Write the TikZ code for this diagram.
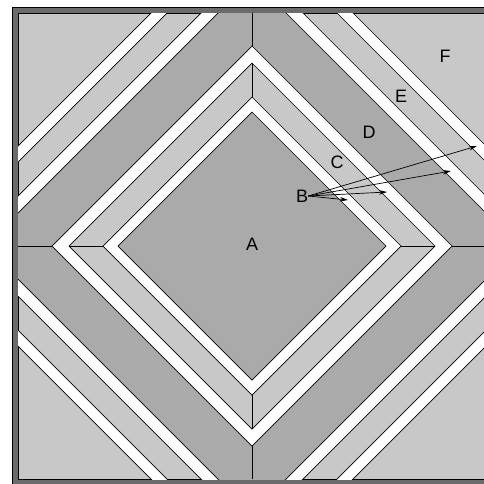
\documentclass[tikz,border=0pt]{standalone}
\usepackage{fontspec}
\setmainfont{Liberation Sans}
\usetikzlibrary{arrows.meta}
\definecolor{lightfill}{gray}{0.784}
\definecolor{darkfill}{gray}{0.667}
\definecolor{framefill}{gray}{0.42}
\tikzset{
  lbl/.style={font=\fontsize{18}{20}\selectfont, inner sep=0pt},
  edgeline/.style={draw=black, line width=0.7pt},
  ptr/.style={-{Stealth[length=8pt,width=4.5pt]}, line width=0.7pt},
}
\newcommand\dmd[1]{(252-#1,246) -- (252,246-#1) -- (252+#1,246) -- (252,246+#1) -- cycle}
\begin{document}
\begin{tikzpicture}[x=1pt,y=-1pt]
\useasboundingbox (0,0) rectangle (484,483);
\clip (0,0) rectangle (484,483);
% frame
\filldraw[fill=framefill, edgeline] (12,7) rectangle (492,485);
\filldraw[fill=lightfill, edgeline] (18,13) rectangle (486,479);
\begin{scope}
  \clip (18,13) rectangle (486,479);
  \fill[darkfill] \dmd{267};
  \fill[lightfill] \dmd{183};
  \draw[edgeline] (18,246) -- (486,246);
  \draw[edgeline] (252,13) -- (252,479);
  \fill[darkfill] \dmd{134};
  \fill[white, even odd rule] \dmd{149} \dmd{134};
  \fill[white, even odd rule] \dmd{200} \dmd{183};
  \fill[white, even odd rule] \dmd{284} \dmd{267};
  \fill[white, even odd rule] \dmd{334} \dmd{318};
  \foreach \r in {134,149,183,200,267,284,318,334} {
    \draw[edgeline] \dmd{\r};
  }
\end{scope}
% labels
\node[lbl] (A) at (252,244) {A};
\node[lbl] (B) at (302,196) {B};
\node[lbl] (C) at (337,162) {C};
\node[lbl] (D) at (369,132) {D};
\node[lbl] (E) at (401,96) {E};
\node[lbl] (F) at (445,56) {F};
% arrow targets
\coordinate (t1) at (348,200);
\coordinate (t2) at (387,192);
\coordinate (t3) at (451,171);
\coordinate (t4) at (477,146);
\foreach \t in {t1,t2,t3,t4} {
  \draw[ptr] (B.east) -- (\t);
}
\end{tikzpicture}
\end{document}
